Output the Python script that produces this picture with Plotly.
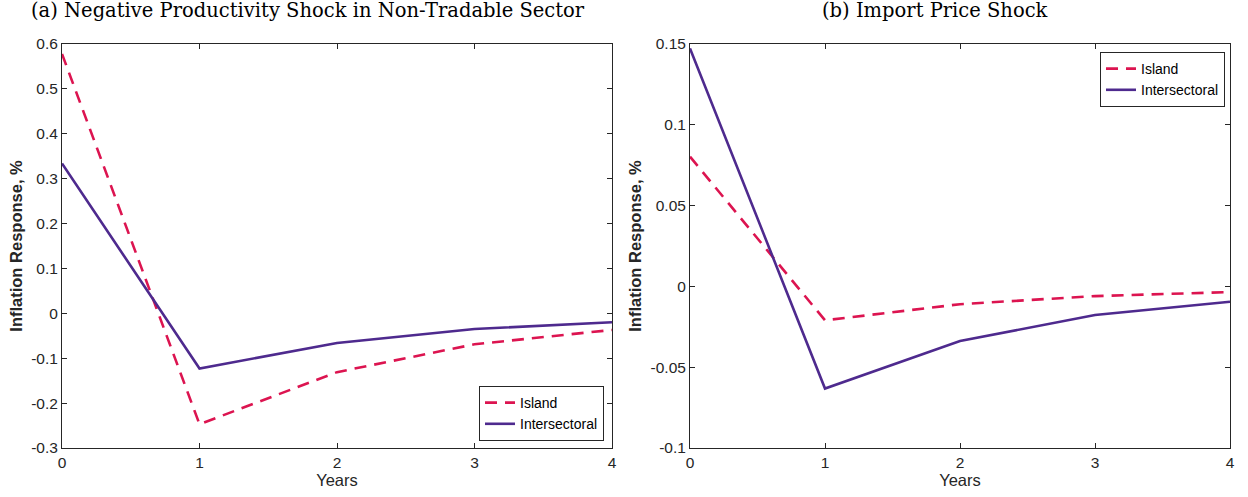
import plotly.graph_objects as go

years = [0, 1, 2, 3, 4]

# Panel (a): Negative Productivity Shock in Non-Tradable Sector
island_a = [0.578, -0.247, -0.131, -0.069, -0.037]
inter_a = [0.334, -0.123, -0.066, -0.035, -0.020]

# Panel (b): Import Price Shock
island_b = [0.0803, -0.0210, -0.0110, -0.0060, -0.0035]
inter_b = [0.1473, -0.0632, -0.0338, -0.0177, -0.0095]

yticks_a = [-0.3, -0.2, -0.1, 0, 0.1, 0.2, 0.3, 0.4, 0.5, 0.6]
yticktext_a = ["-0.3", "-0.2", "-0.1", "0", "0.1", "0.2", "0.3", "0.4", "0.5", "0.6"]
yticks_b = [-0.1, -0.05, 0, 0.05, 0.1, 0.15]
yticktext_b = ["-0.1", "-0.05", "0", "0.05", "0.1", "0.15"]
xticks = [0, 1, 2, 3, 4]

titles = ["(a) Negative Productivity Shock in Non-Tradable Sector", "(b) Import Price Shock"]

RED = "#DC1450"
PURPLE = "#4E2A8E"
AX = "#262626"
W, H = 1248, 497

fig = go.Figure()
fig.add_trace(go.Scatter(x=years, y=island_a, mode="lines", name="Island",
                         line=dict(color=RED, width=2.6, dash="12px,8px"),
                         xaxis="x", yaxis="y", legend="legend"))
fig.add_trace(go.Scatter(x=years, y=inter_a, mode="lines", name="Intersectoral",
                         line=dict(color=PURPLE, width=2.6),
                         xaxis="x", yaxis="y", legend="legend"))
fig.add_trace(go.Scatter(x=years, y=island_b, mode="lines", name="Island",
                         line=dict(color=RED, width=2.6, dash="12px,8px"),
                         xaxis="x2", yaxis="y2", legend="legend2"))
fig.add_trace(go.Scatter(x=years, y=inter_b, mode="lines", name="Intersectoral",
                         line=dict(color=PURPLE, width=2.6),
                         xaxis="x2", yaxis="y2", legend="legend2"))

ydom = [(H - 448) / H, (H - 44) / H]
tickfont = dict(family="Liberation Sans, Arial, sans-serif", size=15.5, color=AX)
titlefont = dict(family="Liberation Sans, Arial, sans-serif", size=16.5, color=AX)

def xaxis(dom, anchor):
    return dict(domain=dom, anchor=anchor, range=[0, 4], tickvals=xticks,
                ticks="inside", ticklen=5, tickcolor=AX, showline=True, linecolor=AX,
                linewidth=1, mirror="ticks", showgrid=False, zeroline=False,
                automargin=False,
                title=dict(text="Years", font=titlefont, standoff=3), tickfont=tickfont)

def yaxis(rng, tv, tt, anchor):
    return dict(domain=ydom, anchor=anchor, range=rng, tickvals=tv, ticktext=tt,
                ticks="inside", ticklen=5, tickcolor=AX, showline=True, linecolor=AX,
                linewidth=1, mirror="ticks", showgrid=False, zeroline=False,
                automargin=False,
                title=dict(text="<b>Inflation Response, %</b>", font=titlefont, standoff=4),
                tickfont=tickfont)

legfont = dict(family="Liberation Sans, Arial, sans-serif", size=14, color="#000000")

fig.update_layout(
    width=W, height=H,
    margin=dict(l=0, r=0, t=0, b=0, autoexpand=False),
    plot_bgcolor="white", paper_bgcolor="white",
    xaxis=xaxis([62 / W, 612 / W], "y"),
    yaxis=yaxis([-0.3, 0.6], yticks_a, yticktext_a, "x"),
    xaxis2=xaxis([690 / W, 1230 / W], "y2"),
    yaxis2=yaxis([-0.1, 0.15], yticks_b, yticktext_b, "x2"),
    legend=dict(x=604 / W, y=(H - 441) / H, xanchor="right", yanchor="bottom",
                bgcolor="white", bordercolor=AX, borderwidth=1, font=legfont,
                tracegroupgap=0, itemwidth=30),
    legend2=dict(x=1225 / W, y=(H - 52) / H, xanchor="right", yanchor="top",
                 bgcolor="white", bordercolor=AX, borderwidth=1, font=legfont,
                 tracegroupgap=0, itemwidth=30),
    showlegend=True,
)

for txt, cx in zip(titles, [308, 935]):
    fig.add_annotation(text=txt, x=cx / W, y=(H - 10) / H, xref="paper", yref="paper",
                       xanchor="center", yanchor="middle", showarrow=False,
                       font=dict(family="DejaVu Serif, Liberation Serif, serif", size=19.5, color="#000000"))

fig.write_html("out.html", config={"displayModeBar": False},
               post_script="document.body.style.margin='0';")
